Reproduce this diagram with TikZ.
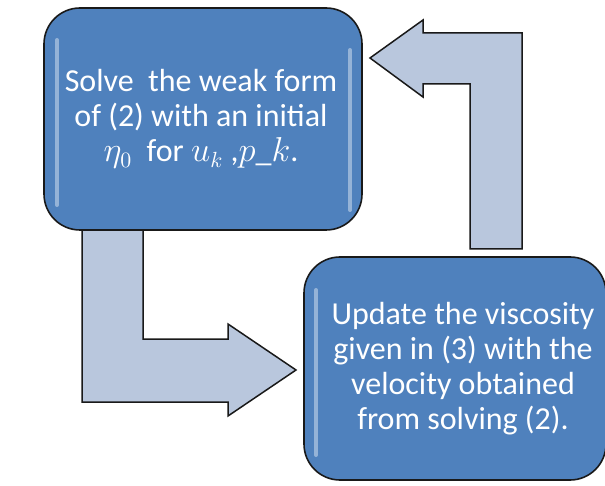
\documentclass[tikz,border=0pt]{standalone}
\usepackage{fontspec}
\setmainfont{Carlito}
\usepackage{xcolor}
\usetikzlibrary{positioning,calc}
\definecolor{boxblue}{RGB}{79,129,189}
\definecolor{arrowgray}{RGB}{185,199,221}
\definecolor{edgedark}{RGB}{25,25,25}

\begin{document}
\begin{tikzpicture}[x=0.5pt, y=-0.5pt,
    stepbox/.style={draw=edgedark, line width=0.8pt, fill=boxblue, rounded corners=18pt,
                    inner sep=0pt},
    boxtext/.style={text=white, align=center, font=\fontsize{16}{17.6}\selectfont},
    bentarrow/.style={draw=edgedark, line width=0.75pt, fill=arrowgray, line join=miter},
    gloss/.style={white, opacity=0.4, line width=2pt, line cap=round}
]
\useasboundingbox (0,0) rectangle (605,486);

% bent arrows go below the boxes
\draw[bentarrow] (82,226) -- (82,402) -- (228,402) -- (228,416) -- (296,370)
    -- (228,324) -- (228,339) -- (143,339) -- (143,226) -- cycle;
\draw[bentarrow] (522,249) -- (522,33) -- (423,33) -- (423,20) -- (370,58)
    -- (423,97) -- (423,84) -- (470,84) -- (470,249) -- cycle;

\node[stepbox, minimum width=159pt, minimum height=111pt] (solve) at (203,119) {};
\node[boxtext] (solvetext) at ([xshift=-1pt]solve.center)
    {Solve\ \ the weak form\\of (2) with an initial\\$\eta_0$\ \ for $u_k$ ,$p\_k$.};

\node[stepbox, minimum width=151pt, minimum height=111.5pt] (update) at (455,368.5) {};
\node[boxtext] (updatetext) at ([xshift=4pt]update.center)
    {Update the viscosity\\given in (3) with the\\velocity obtained\\from solving (2).};

% highlights
\draw[gloss] (57,40) -- (57,205);
\draw[gloss] (350,50) -- (350,210);
\draw[gloss] (316,290) -- (316,455);
\end{tikzpicture}
\end{document}
